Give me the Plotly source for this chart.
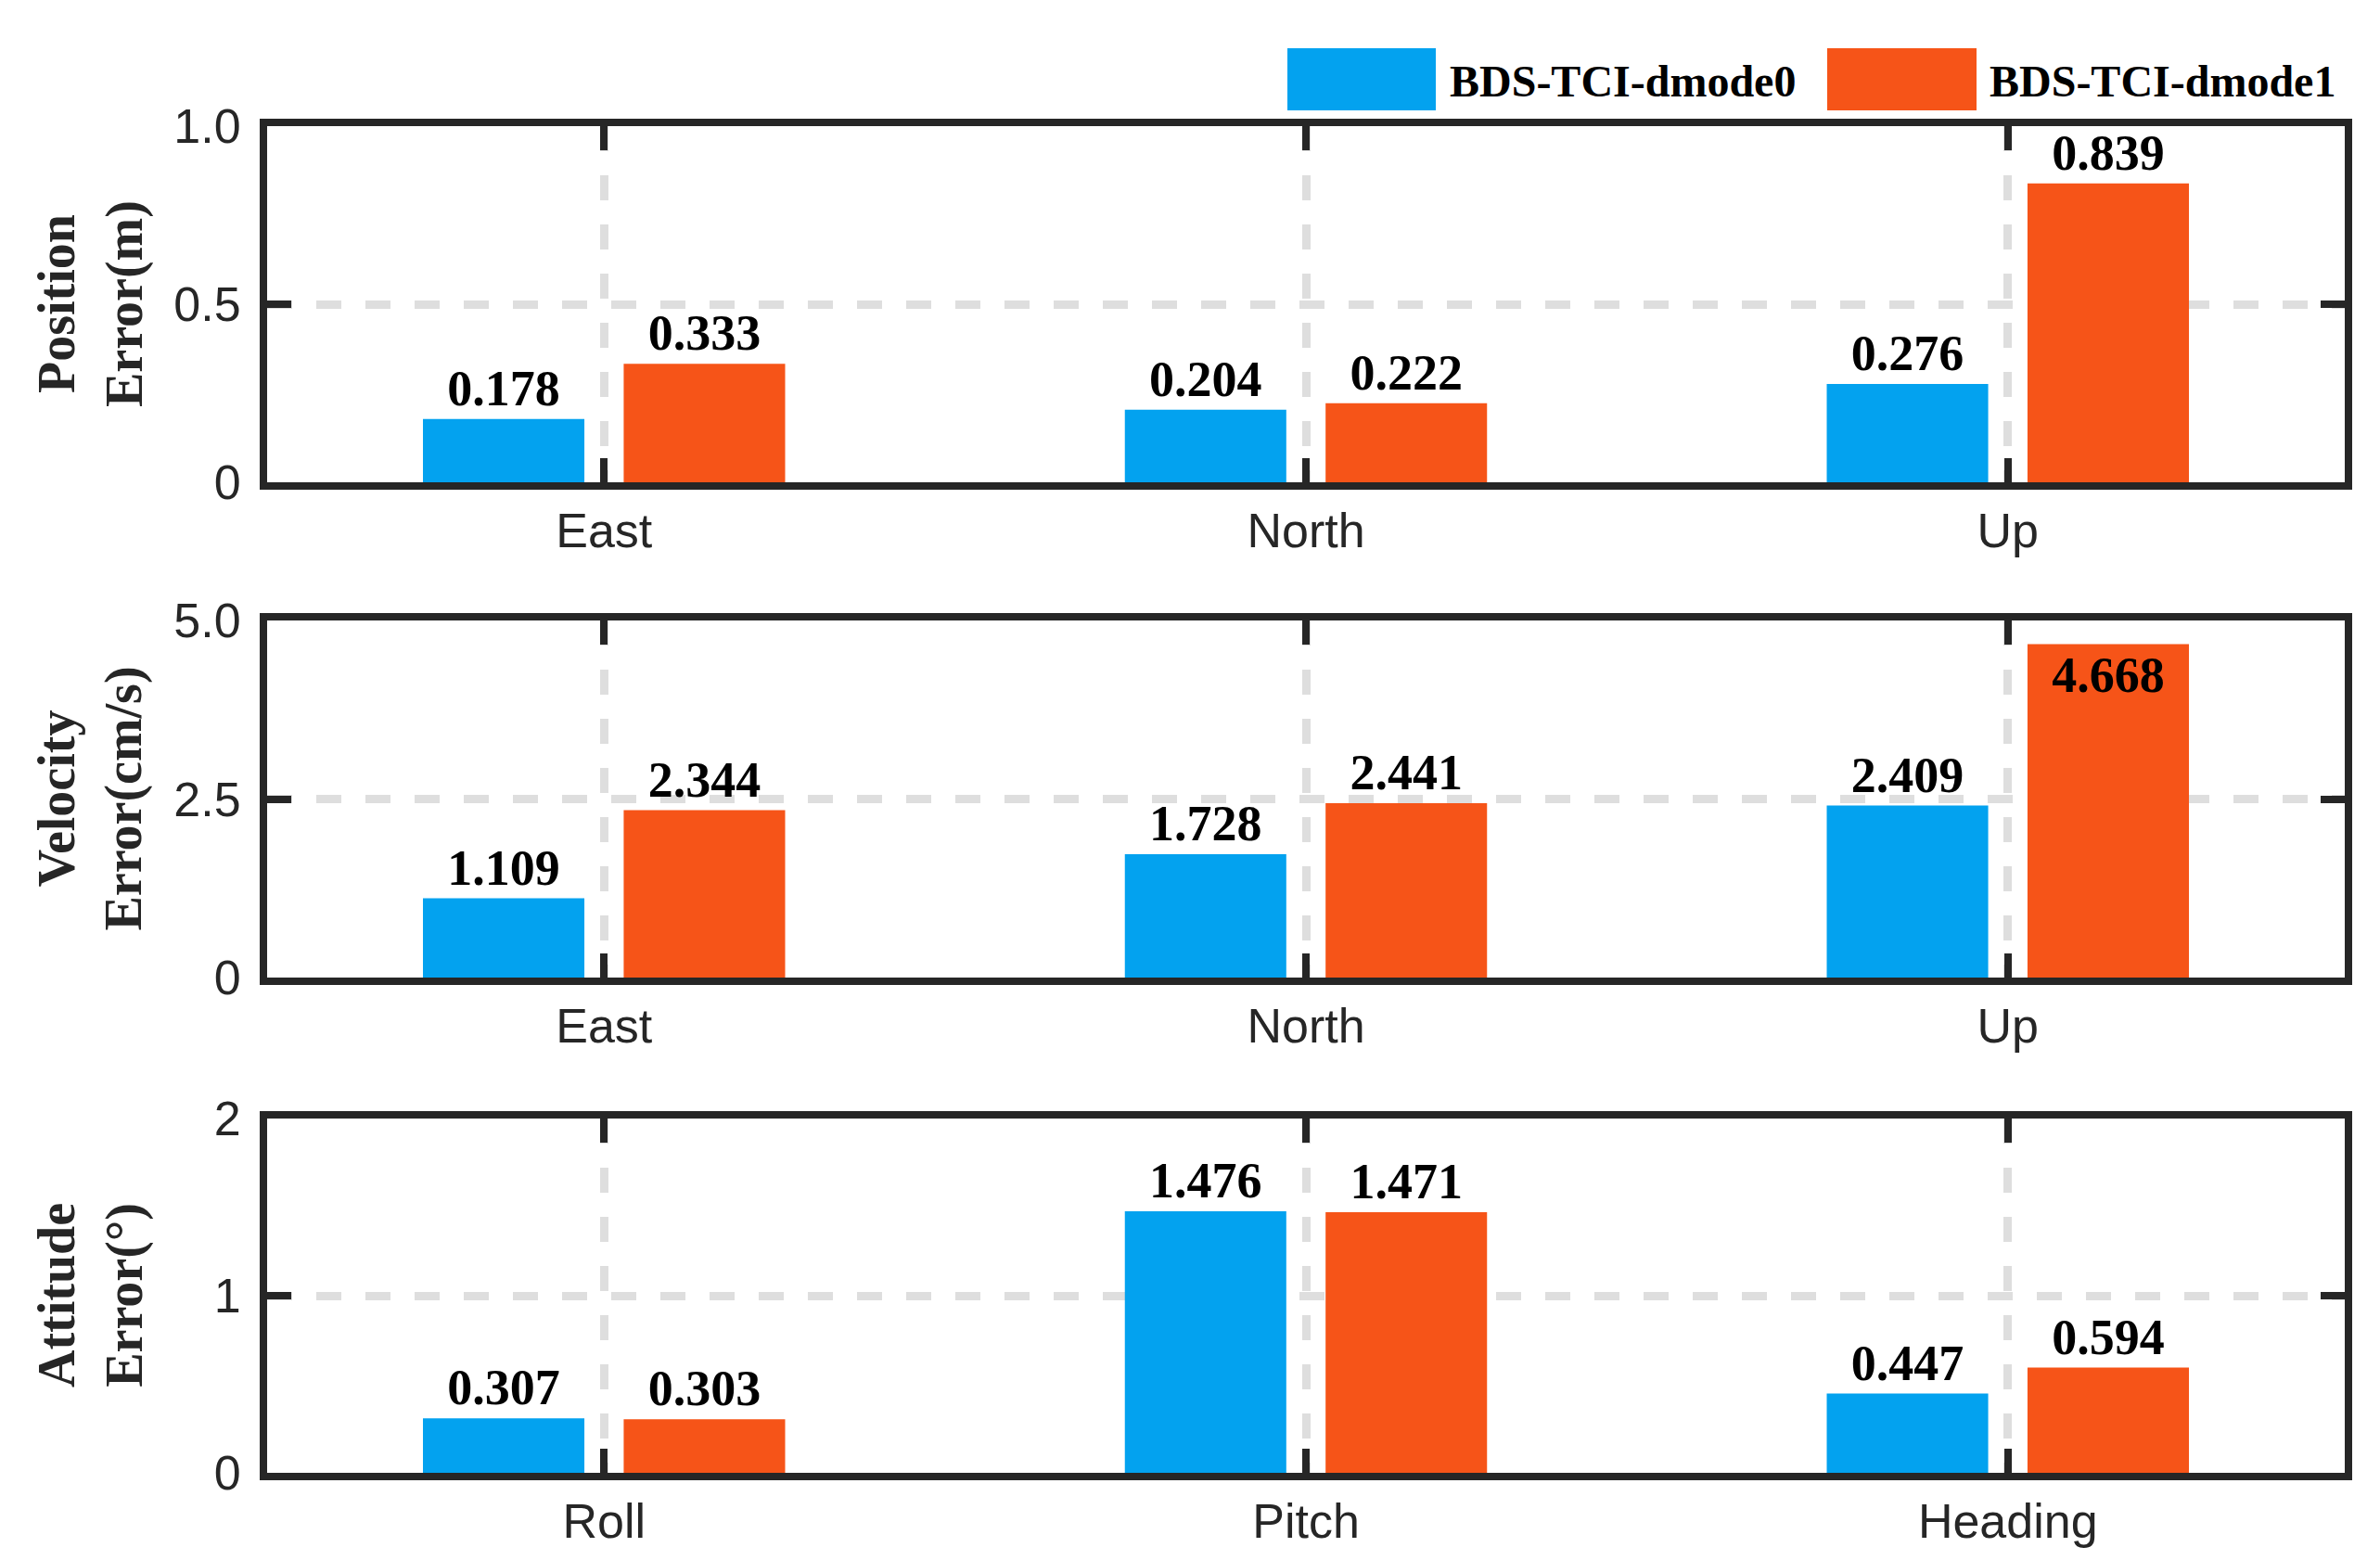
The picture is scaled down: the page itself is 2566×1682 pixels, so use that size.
import plotly.graph_objects as go

series_names = ["BDS-TCI-dmode0", "BDS-TCI-dmode1"]
series_colors = ["#03A2EF", "#F65418"]

pos_categories = ["East", "North", "Up"]
vel_categories = ["East", "North", "Up"]
att_categories = ["Roll", "Pitch", "Heading"]

pos_dmode0 = [0.178, 0.204, 0.276]
pos_dmode1 = [0.333, 0.222, 0.839]
vel_dmode0 = [1.109, 1.728, 2.409]
vel_dmode1 = [2.344, 2.441, 4.668]
att_dmode0 = [0.307, 1.476, 0.447]
att_dmode1 = [0.303, 1.471, 0.594]

y_titles = ["Position<br>Error(m)", "Velocity<br>Error(cm/s)", "Attitude<br>Error(°)"]
y_ranges = [[0, 1.0], [0, 5.0], [0, 2.0]]
y_tickvals = [[0, 0.5, 1.0], [0, 2.5, 5.0], [0, 1, 2]]
y_ticktext = [["0", "0.5", "1.0"], ["0", "2.5", "5.0"], ["0", "1", "2"]]

panels = [
    (pos_categories, pos_dmode0, pos_dmode1),
    (vel_categories, vel_dmode0, vel_dmode1),
    (att_categories, att_dmode0, att_dmode1),
]

W, H = 2566, 1682
FRAME = "#262626"
GRID = "#DEDEDE"
x_dom = [280 / W, 2520 / W]
y_doms = [
    [1 - 512 / H, 1 - 128 / H],
    [1 - 1046 / H, 1 - 661 / H],
    [1 - 1580 / H, 1 - 1198 / H],
]

bar_offsets = [-0.258, 0.028]
bar_width = 0.23

fig = go.Figure()
layout = {}
for i, (cats, s0, s1) in enumerate(panels):
    n = i + 1
    xa = "x" if n == 1 else f"x{n}"
    ya = "y" if n == 1 else f"y{n}"
    xs = list(range(len(cats)))
    ymax = y_ranges[i][1]
    for k, vals in enumerate([s0, s1]):
        tp = ["inside" if v / ymax > 0.9 else "outside" for v in vals]
        lbl_font = dict(family="Liberation Serif", size=54, color="black", weight="bold")
        fig.add_trace(go.Bar(
            x=xs, y=vals, name=series_names[k],
            marker=dict(color=series_colors[k], line=dict(width=0)),
            offset=bar_offsets[k], width=bar_width,
            texttemplate="%{y:.3f}", textposition=tp,
            insidetextanchor="end",
            constraintext="none",
            textfont=lbl_font, insidetextfont=lbl_font, outsidetextfont=lbl_font,
            cliponaxis=False, showlegend=False,
            xaxis=xa, yaxis=ya,
        ))
    xkey = "xaxis" if n == 1 else f"xaxis{n}"
    ykey = "yaxis" if n == 1 else f"yaxis{n}"
    common = dict(
        showline=True, linewidth=8, linecolor=FRAME, mirror="ticks",
        ticks="inside", ticklen=26, tickwidth=8, tickcolor=FRAME,
        showgrid=True, gridcolor=GRID, gridwidth=9, griddash="27px,26px",
        zeroline=False, automargin=False, fixedrange=True,
        tickfont=dict(family="Liberation Sans", size=52, color=FRAME),
    )
    layout[xkey] = dict(
        domain=x_dom, anchor=ya, range=[-0.48, 2.48],
        tickmode="array", tickvals=xs, ticktext=cats,
        ticklabelstandoff=0, **common,
    )
    layout[ykey] = dict(
        domain=y_doms[i], anchor=xa, range=y_ranges[i],
        tickmode="array", tickvals=y_tickvals[i], ticktext=y_ticktext[i],
        ticklabelstandoff=10, **common,
    )

annotations = []
for i, t in enumerate(y_titles):
    annotations.append(dict(
        text=t, xref="paper", yref="paper", x=90 / W,
        y=(y_doms[i][0] + y_doms[i][1]) / 2,
        xanchor="center", yanchor="middle", textangle=-90, showarrow=False,
        font=dict(family="Liberation Serif", size=56, color=FRAME, weight="bold"),
    ))

# legend drawn as boxes + labels
legend_boxes = [(1380, 1540), (1962, 2123)]
legend_text_x = [1553, 2135]
shapes = []
for k in range(2):
    x0, x1 = legend_boxes[k]
    shapes.append(dict(type="rect", xref="paper", yref="paper",
                       x0=x0 / W, x1=x1 / W, y0=1 - 111 / H, y1=1 - 44 / H,
                       fillcolor=series_colors[k], line=dict(width=0)))
    annotations.append(dict(
        text=series_names[k], xref="paper", yref="paper",
        x=legend_text_x[k] / W, y=1 - 79 / H, xanchor="left", yanchor="middle",
        showarrow=False,
        font=dict(family="Liberation Serif", size=48, color="black", weight="bold"),
    ))

fig.update_layout(
    width=W, height=H, margin=dict(l=0, r=0, t=0, b=0, autoexpand=False),
    paper_bgcolor="white", plot_bgcolor="white",
    barmode="overlay", annotations=annotations, shapes=shapes,
    **layout,
)
fig.write_html("out.html")
